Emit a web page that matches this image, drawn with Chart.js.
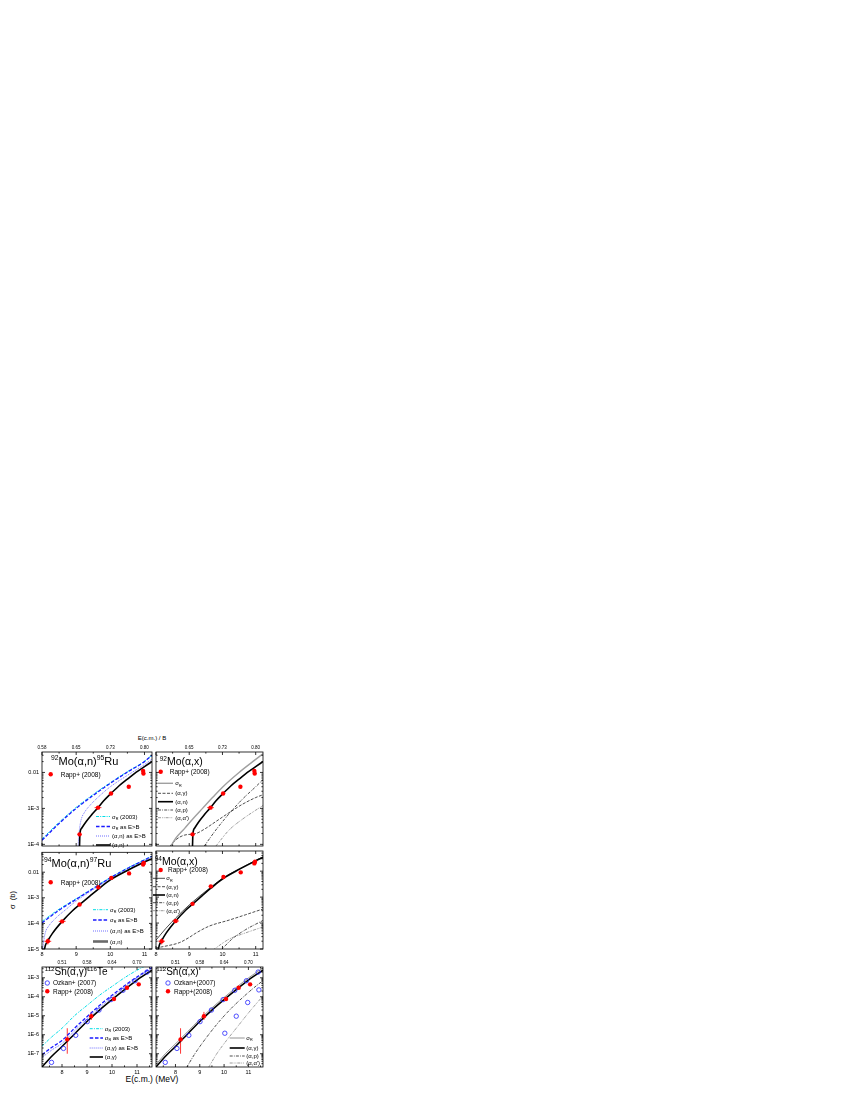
<!DOCTYPE html>
<html>
<head>
<meta charset="utf-8">
<title>Cross sections</title>
<script src="https://cdn.jsdelivr.net/npm/chart.js@4.4.1/dist/chart.umd.min.js"></script>
<style>
  body { margin: 0; background: #fff; }
  #fig { position: relative; width: 850px; height: 1100px; overflow: hidden; }
  #fig canvas { position: absolute; }
  .t { position: absolute; font-family: "Liberation Sans", Arial, sans-serif; color: #000; white-space: nowrap; line-height: 1; }
</style>
</head>
<body>
<div id="fig">
  <div class="t" style="left:152px; top:735px; font-size:6px; transform:translateX(-50%);">E(c.m.) / B</div>
  <div class="t" style="left:152px; top:1075px; font-size:8.5px; transform:translateX(-50%);">E(c.m.) (MeV)</div>
  <div class="t" style="left:13px; top:900px; font-size:7.5px; transform:translate(-50%,-50%) rotate(-90deg);">σ&nbsp;&nbsp;(b)</div>
</div>
<script>
// ---------- tick labels ----------
const moXTicks = [8, 9, 10, 11];
const snXTicks = [8, 9, 10, 11];
const xTickLabels = ["8", "9", "10", "11"];
const moTopLabels = ["0.58", "0.65", "0.73", "0.80"];   // E(c.m.)/B for 92,94Mo
const snTopLabels = ["0.51", "0.58", "0.64", "0.70"];   // E(c.m.)/B for 112Sn
const y1Ticks = [1e-4, 1e-3, 1e-2];
const y1Labels = ["1E-4", "1E-3", "0.01"];
const y2Ticks = [1e-5, 1e-4, 1e-3, 1e-2];
const y2Labels = ["1E-5", "1E-4", "1E-3", "0.01"];
const y3Ticks = [1e-7, 1e-6, 1e-5, 1e-4, 1e-3];
const y3Labels = ["1E-7", "1E-6", "1E-5", "1E-4", "1E-3"];

// ---------- 92Mo ----------
const mo92RappE = [9.10, 9.64, 10.02, 10.54, 10.96, 10.97];
const mo92RappS = [1.9e-4, 1.05e-3, 2.6e-3, 4.0e-3, 1.1e-2, 9.3e-3];
const mo92RappXerr = [0.03, 0.10, 0, 0, 0, 0];

const mo92SigE = [8.0, 8.5, 9.0, 9.5, 10.0, 10.5, 11.0, 11.22];
const mo92SigR03 = [1.42e-4, 4.1e-4, 1.07e-3, 2.45e-3, 5.2e-3, 1.05e-2, 2.05e-2, 3.05e-2];
const mo92SigRB = [1.3e-4, 3.8e-4, 1.0e-3, 2.3e-3, 5.0e-3, 1.02e-2, 2.0e-2, 3.0e-2];
const mo92AnBE = [9.05, 9.07, 9.10, 9.15, 9.25, 9.4, 9.7, 10.0, 10.5, 11.0, 11.22];
const mo92AnB = [6.3e-5, 1.4e-4, 2.8e-4, 5.0e-4, 7.9e-4, 1.2e-3, 2.3e-3, 4.0e-3, 8.3e-3, 1.66e-2, 2.35e-2];
const mo92AnE = [9.09, 9.10, 9.11, 9.16, 9.3, 9.45, 9.64, 9.8, 10.0, 10.25, 10.5, 10.75, 11.0, 11.22];
const mo92An = [5e-5, 1.0e-4, 1.9e-4, 2.8e-4, 4.4e-4, 6.6e-4, 1.05e-3, 1.6e-3, 2.5e-3, 4.2e-3, 6.5e-3, 1.0e-2, 1.45e-2, 2.0e-2];

const mo92XSigE = [8.42, 8.6, 8.85, 9.1, 9.4, 9.7, 10.0, 10.5, 11.0, 11.22];
const mo92XSig = [8e-5, 1.5e-4, 2.7e-4, 5.0e-4, 1.0e-3, 2.0e-3, 3.9e-3, 1.0e-2, 2.3e-2, 3.3e-2];
const mo92AgE = [8.42, 8.6, 8.85, 9.2, 9.5, 9.8, 10.2, 10.6, 11.0, 11.22];
const mo92Ag = [8.9e-5, 1.35e-4, 1.8e-4, 2.0e-4, 2.8e-4, 4.3e-4, 7.6e-4, 1.3e-3, 2.0e-3, 2.4e-3];
const mo92ApE = [9.45, 9.8, 10.2, 10.6, 11.0, 11.22];
const mo92Ap = [8.9e-5, 2.5e-4, 7.1e-4, 1.8e-3, 4.0e-3, 6.3e-3];
const mo92AaE = [9.8, 10.2, 10.6, 11.0, 11.22];
const mo92Aa = [8.9e-5, 2.5e-4, 5.0e-4, 8.9e-4, 1.2e-3];

// ---------- 94Mo ----------
const mo94RappE = [8.17, 8.59, 9.10, 9.65, 10.03, 10.55, 10.96, 10.98];
const mo94RappS = [2.0e-5, 1.2e-4, 5.5e-4, 2.6e-3, 6.0e-3, 9.0e-3, 2.0e-2, 2.3e-2];
const mo94RappXerr = [0.10, 0.10, 0, 0.05, 0, 0, 0, 0];
const mo94RappYlo = [1.5e-5, null, null, null, null, null, null, null];
const mo94RappYhi = [2.6e-5, null, null, null, null, null, null, null];

const mo94SigE = [8.0, 8.5, 9.0, 9.5, 10.0, 10.5, 11.0, 11.22];
const mo94SigR03 = [1.2e-4, 3.6e-4, 9.2e-4, 2.4e-3, 6.2e-3, 1.45e-2, 3.1e-2, 4.3e-2];
const mo94SigRB = [1.05e-4, 3.3e-4, 8.7e-4, 2.3e-3, 6.0e-3, 1.4e-2, 3.0e-2, 4.2e-2];
const mo94AnBE = [8.02, 8.05, 8.1, 8.2, 8.4, 8.7, 9.0, 9.5, 10.0, 10.5, 11.0, 11.22];
const mo94AnB = [8e-6, 2.0e-5, 4.5e-5, 8.0e-5, 1.6e-4, 3.5e-4, 7.5e-4, 2.1e-3, 5.6e-3, 1.3e-2, 2.8e-2, 4.0e-2];
const mo94AnE = [8.06, 8.1, 8.17, 8.3, 8.59, 8.9, 9.1, 9.4, 9.65, 10.0, 10.5, 11.0, 11.22];
const mo94An = [7.9e-6, 1.4e-5, 2.1e-5, 4.0e-5, 1.2e-4, 3.2e-4, 5.4e-4, 1.17e-3, 2.2e-3, 5.0e-3, 1.17e-2, 2.5e-2, 3.4e-2];

const mo94XSigE = [8.0, 8.3, 8.6, 9.0, 9.4, 9.7, 10.0, 10.5, 11.0, 11.22];
const mo94XSig = [2.2e-5, 6.3e-5, 1.6e-4, 5.0e-4, 1.35e-3, 2.7e-3, 5.3e-3, 1.22e-2, 2.6e-2, 3.6e-2];
const mo94AgE = [8.0, 8.3, 8.7, 9.0, 9.2, 9.6, 10.2, 10.7, 11.22];
const mo94Ag = [1.1e-5, 1.3e-5, 1.75e-5, 2.8e-5, 4.1e-5, 7.6e-5, 1.3e-4, 2.1e-4, 3.5e-4];
const mo94ApE = [9.95, 10.3, 10.7, 11.22];
const mo94Ap = [8.9e-6, 2.5e-5, 5.6e-5, 1.26e-4];
const mo94AaE = [9.7, 10.2, 10.7, 11.22];
const mo94Aa = [8.9e-6, 2.4e-5, 4.2e-5, 7.1e-5];

// ---------- 112Sn ----------
const snOzkanE = [7.58, 8.06, 8.55, 9.01, 9.48, 9.96, 10.44, 10.92, 11.40];
const snOzkanS = [3.5e-8, 1.9e-7, 9.3e-7, 4.9e-6, 2.0e-5, 7.1e-5, 2.2e-4, 7.0e-4, 2.0e-3];
const snOzkan2E = [10.03, 10.5, 10.97, 11.43];
const snOzkan2S = [1.2e-6, 9.5e-6, 5.0e-5, 2.3e-4];
const snRappE = [8.21, 9.17, 10.08, 10.60, 11.07];
const snRappS = [5.7e-7, 9.5e-6, 7.6e-5, 3.0e-4, 4.5e-4];
const snRappXerr = [0.04, 0.05, 0, 0, 0];
const snRappYlo = [1.0e-7, 6.0e-6, null, null, null];
const snRappYhi = [2.2e-6, 1.6e-5, null, null, null];

const snE = [7.2, 7.6, 8.0, 8.5, 9.0, 9.5, 10.0, 10.5, 11.0, 11.6];
const snSigR03 = [2.5e-7, 7.9e-7, 2.2e-6, 1.0e-5, 3.5e-5, 1.2e-4, 3.5e-4, 1.0e-3, 2.5e-3, 6.3e-3];
const snSigRB = [8.9e-8, 2.2e-7, 5.0e-7, 2.2e-6, 8.9e-6, 3.5e-5, 1.2e-4, 3.8e-4, 1.1e-3, 3.5e-3];
const snAgB = [6.3e-8, 1.6e-7, 3.5e-7, 1.6e-6, 6.8e-6, 2.7e-5, 9.5e-5, 3.2e-4, 9.5e-4, 3.2e-3];
const snAg = [2.0e-8, 7.6e-8, 2.4e-7, 1.1e-6, 5.0e-6, 2.0e-5, 7.1e-5, 2.4e-4, 7.6e-4, 2.5e-3];
const snSigR = [2.7e-8, 1.05e-7, 3.3e-7, 1.45e-6, 6.5e-6, 2.6e-5, 9.2e-5, 3.1e-4, 9.8e-4, 3.3e-3];
const snApE = [8.45, 8.8, 9.3, 9.8, 10.3, 10.8, 11.2, 11.6];
const snAp = [1.8e-8, 1.0e-7, 7.9e-7, 5.0e-6, 2.5e-5, 1.0e-4, 2.8e-4, 7.1e-4];
const snAaE = [9.35, 9.7, 10.1, 10.5, 11.0, 11.3, 11.6];
const snAa = [1.8e-8, 1.0e-7, 5.0e-7, 2.2e-6, 1.4e-5, 4.0e-5, 1.1e-4];

// ---------- styles ----------
const FONT = '"Liberation Sans", Arial, sans-serif';
Chart.defaults.font.family = FONT;

const ST = {
    cyan: { borderColor: "#00dde6", borderWidth: 1, borderDash: [3, 1.2, 1, 1.2] },
    bdash: { borderColor: "#1a1aff", borderWidth: 1.3, borderDash: [3.5, 1.8] },
    bdot: { borderColor: "#6f6fff", borderWidth: 1, borderDash: [1, 1] },
    black: { borderColor: "#000", borderWidth: 1.6 },
    thickGray: { borderColor: "#6a6a6a", borderWidth: 2.6 },
    thinBlack: { borderColor: "#000", borderWidth: 0.7 },
    gray: { borderColor: "#a0a0a0", borderWidth: 1.4 },
    thinGray: { borderColor: "#7a7a7a", borderWidth: 0.8 },
    gdash: { borderColor: "#000", borderWidth: 0.7, borderDash: [3, 1.5] },
    dashDot: { borderColor: "#000", borderWidth: 0.7, borderDash: [3, 1.2, 0.8, 1.2] },
    dashDotDot: { borderColor: "#707070", borderWidth: 0.7, borderDash: [3, 1, 0.8, 1, 0.8, 1] },
};
const RAPP = { pointStyle: "circle", pointRadius: 2.2, pointBackgroundColor: "#ff0000", pointBorderColor: "#ff0000", pointBorderWidth: 0 };
const OZKAN = { pointStyle: "circle", pointRadius: 2.2, pointBackgroundColor: "rgba(0,0,0,0)", pointBorderColor: "#2424ff", pointBorderWidth: 0.8 };

function pts(E, S) {
    return E.map((e, i) => ({ x: e, y: S[i] }));
}
function curve(E, S, st) {
    return Object.assign({ data: pts(E, S), pointRadius: 0, fill: false, cubicInterpolationMode: "monotone" }, st);
}
function marks(E, S, st) {
    return Object.assign({ data: pts(E, S), showLine: false }, st);
}
function errs(E, S, xerr, ylo, yhi) {
    return E.map((e, i) => ({
        x: e, y: S[i],
        xerr: xerr ? xerr[i] : 0,
        ylo: ylo ? ylo[i] : null,
        yhi: yhi ? yhi[i] : null,
    }));
}

// ---------- panels ----------
const panels = [
    {   // 92Mo(a,n)95Ru
        left: 42, right: 152, top: 752, bottom: 851, ml: 34, mr: 4, mt: 12, mb: 5,
        showLeft: true, showTop: true, showBottom: false,
        xRange: [8, 11.22], xTicks: moXTicks, topTicks: moXTicks, topLabels: moTopLabels,
        yRange: [9e-5, 0.037], yTicks: y1Ticks, yLabels: y1Labels,
        datasets: [
            marks(mo92RappE, mo92RappS, RAPP),
            curve(mo92AnE, mo92An, ST.black),
            curve(mo92AnBE, mo92AnB, ST.bdot),
            curve(mo92SigE, mo92SigRB, ST.bdash),
            curve(mo92SigE, mo92SigR03, ST.cyan),
        ],
        errors: errs(mo92RappE, mo92RappS, mo92RappXerr),
        title: { t: "^{92}Mo(α,n)^{95}Ru", x: 51, y: 765, size: 11 },
        markLegend: [{ st: RAPP, x: 50.7, y: 774.3, tx: 60.7, t: "Rapp+ (2008)", size: 6.5 }],
        lineLegend: { x1: 96, x2: 110, tx: 112, size: 6, items: [
            [ST.cyan, "σ_{R} (2003)", 816.5],
            [ST.bdash, "σ_{R} as E>B", 826.5],
            [ST.bdot, "(α,n) as E>B", 836],
            [ST.black, "(α,n)", 845],
        ] },
    },
    {   // 94Mo(a,n)97Ru
        left: 42, right: 152, top: 851, bottom: 949, ml: 34, mr: 4, mt: 5, mb: 10,
        showLeft: true, showTop: false, showBottom: true,
        xRange: [8, 11.22], xTicks: moXTicks,
        yRange: [1e-5, 0.06], yTicks: y2Ticks, yLabels: y2Labels,
        datasets: [
            marks(mo94RappE, mo94RappS, RAPP),
            curve(mo94AnE, mo94An, ST.black),
            curve(mo94AnBE, mo94AnB, ST.bdot),
            curve(mo94SigE, mo94SigRB, ST.bdash),
            curve(mo94SigE, mo94SigR03, ST.cyan),
        ],
        errors: errs(mo94RappE, mo94RappS, mo94RappXerr, mo94RappYlo, mo94RappYhi),
        title: { t: "^{94}Mo(α,n)^{97}Ru", x: 44, y: 866.5, size: 11 },
        markLegend: [{ st: RAPP, x: 50.7, y: 882.3, tx: 60.7, t: "Rapp+ (2008)", size: 6.5 }],
        lineLegend: { x1: 93, x2: 108, tx: 110, size: 6, items: [
            [ST.cyan, "σ_{R} (2003)", 909.7],
            [ST.bdash, "σ_{R} as E>B", 920],
            [ST.bdot, "(α,n) as E>B", 931],
            [ST.thickGray, "(α,n)", 941.5],
        ] },
    },
    {   // 112Sn(a,g)116Te
        left: 42, right: 152, top: 967, bottom: 1067, ml: 34, mr: 4, mt: 12, mb: 10,
        showLeft: true, showTop: true, showBottom: true,
        xRange: [7.2, 11.6], xTicks: snXTicks, topTicks: snXTicks, topLabels: snTopLabels,
        yRange: [2e-8, 3.7e-3], yTicks: y3Ticks, yLabels: y3Labels,
        datasets: [
            marks(snRappE, snRappS, RAPP),
            marks(snOzkanE, snOzkanS, OZKAN),
            curve(snE, snAg, ST.black),
            curve(snE, snAgB, ST.bdot),
            curve(snE, snSigRB, ST.bdash),
            curve(snE, snSigR03, ST.cyan),
        ],
        errors: errs(snRappE, snRappS, snRappXerr, snRappYlo, snRappYhi),
        title: { t: "^{112}Sn(α,γ)^{116}Te", x: 44.7, y: 975.3, size: 10 },
        markLegend: [
            { st: OZKAN, x: 47.3, y: 983, tx: 53, t: "Ozkan+ (2007)", size: 6.5 },
            { st: RAPP, x: 47.3, y: 991.3, tx: 53, t: "Rapp+ (2008)", size: 6.5 },
        ],
        lineLegend: { x1: 89.7, x2: 103, tx: 104.7, size: 6, items: [
            [ST.cyan, "σ_{R} (2003)", 1028.7],
            [ST.bdash, "σ_{R} as E>B", 1038],
            [ST.bdot, "(α,γ) as E>B", 1048],
            [ST.black, "(α,γ)", 1057],
        ] },
    },
    {   // 92Mo(a,x)
        left: 152, right: 263, top: 752, bottom: 851, ml: 4, mr: 4, mt: 12, mb: 5,
        showLeft: false, showTop: true, showBottom: false,
        xRange: [8, 11.22], xTicks: moXTicks, topTicks: [9, 10, 11], topLabels: moTopLabels.slice(1),
        yRange: [9e-5, 0.037], yTicks: y1Ticks,
        datasets: [
            marks(mo92RappE, mo92RappS, RAPP),
            curve(mo92AnE, mo92An, ST.black),
            curve(mo92XSigE, mo92XSig, ST.gray),
            curve(mo92AgE, mo92Ag, ST.gdash),
            curve(mo92ApE, mo92Ap, ST.dashDot),
            curve(mo92AaE, mo92Aa, ST.dashDotDot),
        ],
        errors: errs(mo92RappE, mo92RappS, mo92RappXerr),
        title: { t: "^{92}Mo(α,x)", x: 159.7, y: 765, size: 10.5 },
        markLegend: [{ st: RAPP, x: 160.7, y: 771.7, tx: 169.7, t: "Rapp+ (2008)", size: 6.5 }],
        lineLegend: { x1: 158, x2: 173, tx: 175.3, size: 6, items: [
            [ST.gray, "σ_{R}", 783.3],
            [ST.gdash, "(α,γ)", 793.3],
            [ST.black, "(α,n)", 801.7],
            [ST.dashDot, "(α,p)", 810],
            [ST.dashDotDot, "(α,α')", 817.7],
        ] },
    },
    {   // 94Mo(a,x)
        left: 152, right: 263, top: 851, bottom: 949, ml: 4, mr: 4, mt: 5, mb: 10,
        showLeft: false, showTop: false, showBottom: true,
        xRange: [8, 11.22], xTicks: moXTicks,
        yRange: [1e-5, 0.06], yTicks: y2Ticks,
        datasets: [
            marks(mo94RappE, mo94RappS, RAPP),
            curve(mo94AnE, mo94An, ST.black),
            curve(mo94XSigE, mo94XSig, ST.thinBlack),
            curve(mo94AgE, mo94Ag, ST.gdash),
            curve(mo94ApE, mo94Ap, ST.dashDot),
            curve(mo94AaE, mo94Aa, ST.dashDotDot),
        ],
        errors: errs(mo94RappE, mo94RappS, mo94RappXerr, mo94RappYlo, mo94RappYhi),
        title: { t: "^{94}Mo(α,x)", x: 154.7, y: 865, size: 10.5 },
        markLegend: [{ st: RAPP, x: 160.7, y: 870, tx: 168, t: "Rapp+ (2008)", size: 6.5 }],
        lineLegend: { x1: 153, x2: 165, tx: 166.3, size: 6, items: [
            [ST.thinBlack, "σ_{R}", 878.3],
            [ST.gdash, "(α,γ)", 886.7],
            [ST.black, "(α,n)", 895],
            [ST.dashDot, "(α,p)", 902.7],
            [ST.dashDotDot, "(α,α')", 910.7],
        ] },
    },
    {   // 112Sn(a,x)
        left: 152, right: 263, top: 967, bottom: 1067, ml: 4, mr: 4, mt: 12, mb: 10,
        showLeft: false, showTop: true, showBottom: true,
        xRange: [7.2, 11.6], xTicks: snXTicks, topTicks: snXTicks, topLabels: snTopLabels,
        yRange: [2e-8, 3.7e-3], yTicks: y3Ticks,
        datasets: [
            marks(snRappE, snRappS, RAPP),
            marks(snOzkanE, snOzkanS, OZKAN),
            marks(snOzkan2E, snOzkan2S, OZKAN),
            curve(snE, snAg, ST.black),
            curve(snE, snSigR, ST.thinGray),
            curve(snApE, snAp, ST.dashDot),
            curve(snAaE, snAa, ST.dashDotDot),
        ],
        errors: errs(snRappE, snRappS, snRappXerr, snRappYlo, snRappYhi),
        title: { t: "^{112}Sn(α,x)", x: 156.3, y: 975.3, size: 10 },
        markLegend: [
            { st: OZKAN, x: 168, y: 983, tx: 174, t: "Ozkan+(2007)", size: 6.5 },
            { st: RAPP, x: 168, y: 991.3, tx: 174, t: "Rapp+(2008)", size: 6.5 },
        ],
        lineLegend: { x1: 229.7, x2: 244.7, tx: 246.3, size: 6, items: [
            [ST.thinGray, "σ_{R}", 1038],
            [ST.black, "(α,γ)", 1048],
            [ST.dashDot, "(α,p)", 1056],
            [ST.dashDotDot, "(α,α')", 1063],
        ] },
    },
];

// ---------- drawing helpers ----------
function parseRich(str) {
    const out = [];
    const re = /([\^_])\{([^}]*)\}|([^\^_]+)/g;
    let m;
    while ((m = re.exec(str))) {
        if (m[3]) out.push({ t: m[3] });
        else out.push({ t: m[2], sup: m[1] === "^", sub: m[1] === "_" });
    }
    return out;
}
function richText(ctx, str, x, y, size) {
    let cx = x;
    ctx.textBaseline = "alphabetic";
    ctx.textAlign = "left";
    for (const s of parseRich(str)) {
        const fs = s.sup || s.sub ? size * 0.62 : size;
        ctx.font = fs + "px " + FONT;
        const dy = s.sup ? -size * 0.42 : s.sub ? size * 0.22 : 0;
        ctx.fillText(s.t, cx, y + dy);
        cx += ctx.measureText(s.t).width;
    }
}
function dot(ctx, st, x, y) {
    ctx.beginPath();
    ctx.arc(x, y, st.pointRadius, 0, Math.PI * 2);
    if (st.pointBackgroundColor !== "rgba(0,0,0,0)") {
        ctx.fillStyle = st.pointBackgroundColor;
        ctx.fill();
    }
    if (st.pointBorderWidth > 0) {
        ctx.lineWidth = st.pointBorderWidth;
        ctx.strokeStyle = st.pointBorderColor;
        ctx.stroke();
    }
}

function makePlugin(p, ox, oy) {
    return {
        id: "panelDecor",
        beforeDatasetsDraw(chart) {
            // error bars of Rapp+ points
            const { ctx } = chart;
            const xs = chart.scales.x, ys = chart.scales.y;
            const a = chart.chartArea;
            ctx.save();
            ctx.beginPath();
            ctx.rect(a.left, a.top, a.right - a.left, a.bottom - a.top);
            ctx.clip();
            ctx.strokeStyle = "#ff0000";
            ctx.lineWidth = 0.8;
            ctx.beginPath();
            for (const e of p.errors) {
                const py = ys.getPixelForValue(e.y);
                if (e.xerr) {
                    ctx.moveTo(xs.getPixelForValue(e.x - e.xerr), py);
                    ctx.lineTo(xs.getPixelForValue(e.x + e.xerr), py);
                }
                if (e.ylo !== null && e.yhi !== null) {
                    const px = xs.getPixelForValue(e.x);
                    ctx.moveTo(px, ys.getPixelForValue(e.ylo));
                    ctx.lineTo(px, ys.getPixelForValue(e.yhi));
                }
            }
            ctx.stroke();
            ctx.restore();
        },
        afterDraw(chart) {
            const { ctx } = chart;
            const a = chart.chartArea;
            const xs = chart.scales.x, ys = chart.scales.y;
            ctx.save();
            // frame with inward ticks
            ctx.strokeStyle = "#000";
            ctx.lineWidth = 0.8;
            ctx.setLineDash([]);
            ctx.strokeRect(a.left, a.top, a.right - a.left, a.bottom - a.top);
            ctx.beginPath();
            const tickX = (v, len) => {
                const px = xs.getPixelForValue(v);
                ctx.moveTo(px, a.bottom); ctx.lineTo(px, a.bottom - len);
                ctx.moveTo(px, a.top); ctx.lineTo(px, a.top + len);
            };
            const tickY = (v, len) => {
                const py = ys.getPixelForValue(v);
                ctx.moveTo(a.left, py); ctx.lineTo(a.left + len, py);
                ctx.moveTo(a.right, py); ctx.lineTo(a.right - len, py);
            };
            p.xTicks.forEach(v => tickX(v, 3));
            for (let v = Math.ceil(p.xRange[0] * 2) / 2; v <= p.xRange[1]; v += 0.5) {
                if (!p.xTicks.includes(v)) tickX(v, 1.6);
            }
            p.yTicks.forEach(v => tickY(v, 3));
            const d0 = Math.floor(Math.log10(p.yRange[0])), d1 = Math.ceil(Math.log10(p.yRange[1]));
            for (let d = d0; d <= d1; d++) {
                for (let k = 2; k <= 9; k++) {
                    const v = k * Math.pow(10, d);
                    if (v > p.yRange[0] && v < p.yRange[1]) tickY(v, 1.6);
                }
            }
            ctx.stroke();

            // titles and legends, positioned in page coordinates
            ctx.translate(-ox, -oy);
            ctx.fillStyle = "#000";
            richText(ctx, p.title.t, p.title.x, p.title.y, p.title.size);
            for (const m of p.markLegend) {
                dot(ctx, m.st, m.x, m.y);
                ctx.fillStyle = "#000";
                richText(ctx, m.t, m.tx, m.y + m.size * 0.36, m.size);
            }
            const L = p.lineLegend;
            for (const [st, t, y] of L.items) {
                ctx.beginPath();
                ctx.setLineDash(st.borderDash || []);
                ctx.strokeStyle = st.borderColor;
                ctx.lineWidth = st.borderWidth;
                ctx.moveTo(L.x1, y);
                ctx.lineTo(L.x2, y);
                ctx.stroke();
                ctx.setLineDash([]);
                ctx.fillStyle = "#000";
                richText(ctx, t, L.tx, y + L.size * 0.36, L.size);
            }
            ctx.restore();
        },
    };
}

const fig = document.getElementById("fig");

panels.forEach(p => {
    const W = (p.right - p.left) + p.ml + p.mr;
    const H = (p.bottom - p.top) + p.mt + p.mb;
    const ox = p.left - p.ml, oy = p.top - p.mt;
    const cv = document.createElement("canvas");
    cv.width = W;
    cv.height = H;
    cv.style.left = ox + "px";
    cv.style.top = oy + "px";
    cv.style.width = W + "px";
    cv.style.height = H + "px";
    fig.appendChild(cv);

    const tickFont = { family: FONT, size: 5.5 };
    const scales = {
        x: {
            type: "linear", min: p.xRange[0], max: p.xRange[1], display: p.showBottom,
            afterBuildTicks: s => { s.ticks = p.xTicks.map(v => ({ value: v })); },
            afterFit: s => { s.height = p.mb; },
            ticks: { autoSkip: false, maxRotation: 0, padding: 2, color: "#000", font: tickFont,
                     callback: (v, i) => xTickLabels[i] },
            grid: { display: false, drawTicks: false },
            border: { display: false },
        },
        y: {
            type: "logarithmic", min: p.yRange[0], max: p.yRange[1], display: p.showLeft,
            afterBuildTicks: s => { s.ticks = p.yTicks.map(v => ({ value: v })); },
            afterFit: s => { s.width = p.ml; },
            ticks: { autoSkip: false, padding: 3, color: "#000", font: tickFont,
                     callback: (v, i) => (p.yLabels ? p.yLabels[i] : "") },
            grid: { display: false, drawTicks: false },
            border: { display: false },
        },
    };
    if (p.showTop) {
        scales.x2 = {
            type: "linear", position: "top", min: p.xRange[0], max: p.xRange[1],
            afterBuildTicks: s => { s.ticks = p.topTicks.map(v => ({ value: v })); },
            afterFit: s => { s.height = p.mt; },
            ticks: { autoSkip: false, maxRotation: 0, padding: 1.5, color: "#000",
                     font: { family: FONT, size: 4.5 },
                     callback: (v, i) => p.topLabels[i] },
            grid: { display: false, drawTicks: false },
            border: { display: false },
        };
    }

    new Chart(cv, {
        type: "line",
        data: { datasets: p.datasets },
        options: {
            responsive: false,
            devicePixelRatio: 1,
            animation: false,
            events: [],
            layout: {
                autoPadding: false,
                padding: {
                    left: p.showLeft ? 0 : p.ml,
                    right: p.mr,
                    top: p.showTop ? 0 : p.mt,
                    bottom: p.showBottom ? 0 : p.mb,
                },
            },
            plugins: { legend: { display: false }, tooltip: { enabled: false } },
            scales: scales,
        },
        plugins: [makePlugin(p, ox, oy)],
    });
});
</script>
</body>
</html>
